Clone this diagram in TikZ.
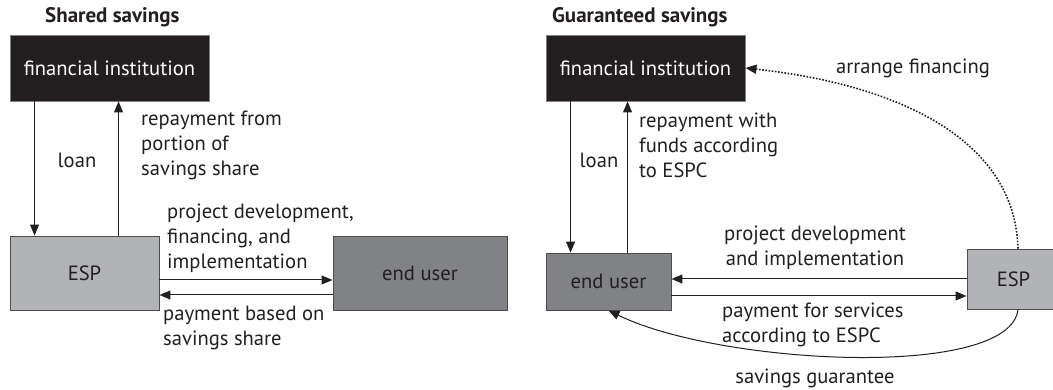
\documentclass[tikz,border=0pt]{standalone}
\usepackage{fontspec}
\setmainfont{PT Sans}
\usetikzlibrary{arrows.meta}
\definecolor{fiblack}{HTML}{231F20}
\definecolor{espgray}{HTML}{B1B3B6}
\definecolor{eugray}{HTML}{808285}
\definecolor{ink}{HTML}{231F20}
\tikzset{
  box/.style={draw=ink!80, line width=0.9pt, inner sep=0pt, text=ink},
  fibox/.style={box, draw=gray, fill=fiblack, text=white, minimum width=199pt, minimum height=66pt},
  arr/.style={draw=ink, line width=1pt, -{Triangle[length=11pt,width=9pt]}},
  dotarr/.style={arr, dash pattern=on 1.6pt off 1.6pt, line width=1.6pt},
  lbl/.style={inner sep=0pt, text=ink},
  ttl/.style={inner sep=0pt, text=ink, font=\fontsize{21}{25}\selectfont\bfseries, anchor=west},
  every node/.style={font=\fontsize{20.6}{25}\selectfont}
}
\begin{document}
\begin{tikzpicture}[x=1pt,y=-1pt]
\useasboundingbox (0,0) rectangle (1053,390);
% ---------- left panel ----------
\node[ttl] (t1) at (45,17) {Shared savings};
\node[fibox] (fi1) at (109.5,68) {financial institution};
\node[box, fill=espgray, minimum width=149pt, minimum height=74pt] (esp1) at (84.5,273) {ESP};
\node[box, fill=eugray, minimum width=174pt, minimum height=74pt] (eu1) at (420,273) {end user};
\draw[arr] ([xshift=25pt]fi1.south west) -- ([xshift=25pt]esp1.north west);
\draw[arr] ([xshift=109pt]esp1.north west) -- ([xshift=109pt]fi1.south west);
\draw[arr] ([yshift=-7pt]esp1.east) -- ([yshift=-7pt]eu1.west);
\draw[arr] ([yshift=-22pt]eu1.west) -- ([yshift=-22pt]esp1.east);
\node[lbl] (loan1) at (77,160) {loan};
\node[lbl, anchor=west, align=left] (rep1) at (141,145) {repayment from\\portion of\\savings share};
\node[lbl, anchor=west, align=left] (proj1) at (167,238) {project development,\\financing, and\\implementation};
\node[lbl, anchor=west, align=left] (pay1) at (163,328) {payment based on\\savings share};
% ---------- right panel ----------
\node[ttl] (t2) at (552,17) {Guaranteed savings};
\node[fibox] (fi2) at (645.5,68) {financial institution};
\node[box, fill=eugray, minimum width=125pt, minimum height=57pt] (eu2) at (608.5,281.5) {end user};
\node[box, fill=espgray, minimum width=93pt, minimum height=60pt] (esp2) at (1013.5,279) {ESP};
\draw[arr] ([xshift=25pt]fi2.south west) -- ([xshift=25pt]eu2.north west);
\draw[arr] ([xshift=82pt]eu2.north west) -- ([xshift=82pt]fi2.south west);
\draw[arr] (esp2.west) -- (eu2.east |- esp2.west);
\draw[arr] ([yshift=-14.5pt]eu2.east) -- ([yshift=-17pt]esp2.west);
\draw[dotarr] ([xshift=4.5pt]esp2.north) .. controls (1015,140) and (900,85) .. (fi2.east);
\draw[arr] ([xshift=4.5pt]esp2.south) .. controls (1010,380) and (720,365) .. (eu2.south);
\node[lbl] (loan2) at (599,160) {loan};
\node[lbl, anchor=west, align=left] (rep2) at (639,145) {repayment with\\funds according\\to ESPC};
\node[lbl] (arr2) at (913,68) {arrange financing};
\node[lbl, align=center] (proj2) at (815,248) {project development\\and implementation};
\node[lbl, anchor=west, align=left] (pay2) at (722,325) {payment for services\\according to ESPC};
\node[lbl] (sg) at (815,378) {savings guarantee};
\end{tikzpicture}
\end{document}
